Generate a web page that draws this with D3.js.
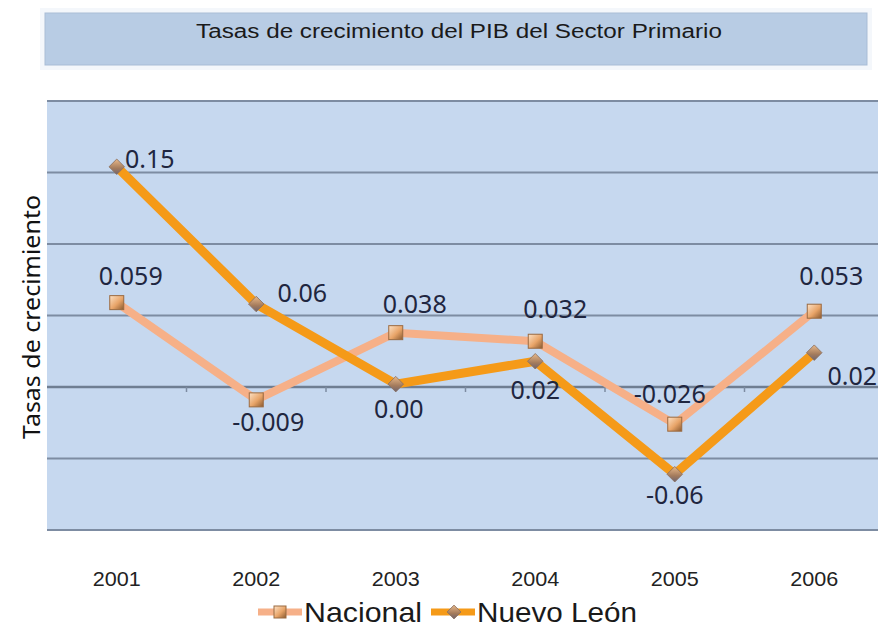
<!DOCTYPE html>
<html>
<head>
<meta charset="UTF-8">
<title>Tasas de crecimiento del PIB del Sector Primario</title>
<style>
  body { margin: 0; background: #fff; }
</style>
</head>
<body>
<div id="chart"></div>
<script src="https://d3js.org/d3.v7.min.js"></script>
<script>
// datos
var years = ["2001", "2002", "2003", "2004", "2005", "2006"];
var nacional = [0.059, -0.009, 0.038, 0.032, -0.026, 0.053];
var nuevoLeon = [0.154, 0.058, 0.002, 0.018, -0.061, 0.024];
var nacionalLabels = ["0.059", "-0.009", "0.038", "0.032", "-0.026", "0.053"];
var nuevoLeonLabels = ["0.15", "0.06", "0.00", "0.02", "-0.06", "0.02"];
var yTicks = [-0.1, -0.05, 0, 0.05, 0.1, 0.15, 0.2];

// desplazamiento de cada etiqueta respecto a su punto (estilo, no datos)
var nacionalDx = [14, 12, 19, 20, -5, 17];
var nacionalDy = [-18, 31, -20, -23, -21, -26];
var nuevoLeonDx = [33, 46, 3, 0, 0, 38];
var nuevoLeonDy = [1, -2, 34, 38, 30, 32];

var width = 878, height = 628;
var pLeft = 47, pRight = 884, pTop = 101, pBottom = 530;

var svg = d3.select("#chart").append("svg")
    .attr("width", width)
    .attr("height", height);

var defs = svg.append("defs");
var gq = defs.append("linearGradient").attr("id", "gq")
    .attr("x1", 0).attr("y1", 0).attr("x2", 1).attr("y2", 1);
gq.append("stop").attr("offset", "0%").attr("stop-color", "#fde2c6");
gq.append("stop").attr("offset", "55%").attr("stop-color", "#e8a468");
gq.append("stop").attr("offset", "100%").attr("stop-color", "#8a5a30");
var gd = defs.append("linearGradient").attr("id", "gd")
    .attr("x1", 0).attr("y1", 0).attr("x2", 1).attr("y2", 1);
gd.append("stop").attr("offset", "0%").attr("stop-color", "#e9b98a");
gd.append("stop").attr("offset", "60%").attr("stop-color", "#a47b5c");
gd.append("stop").attr("offset", "100%").attr("stop-color", "#6e6470");

// caja del titulo
svg.append("rect")
    .attr("x", 40).attr("y", 8).attr("width", 832).attr("height", 62)
    .attr("fill", "#f4f7fb");
svg.append("rect")
    .attr("x", 45).attr("y", 13).attr("width", 822).attr("height", 52)
    .attr("fill", "#b8cce4")
    .attr("stroke", "#a9bdd6").attr("stroke-width", 1);
svg.append("text")
    .attr("x", 459).attr("y", 38)
    .attr("text-anchor", "middle")
    .attr("font-family", "'Liberation Sans', Arial, sans-serif")
    .attr("font-size", 20)
    .attr("textLength", 526)
    .attr("lengthAdjust", "spacingAndGlyphs")
    .attr("fill", "#1a1a1a")
    .text("Tasas de crecimiento del PIB del Sector Primario");

var x = d3.scaleBand()
    .domain(years)
    .range([pLeft, pRight]);

var y = d3.scaleLinear()
    .domain([-0.1, 0.2])
    .range([pBottom, pTop]);

// fondo
svg.append("rect")
    .attr("x", pLeft).attr("y", pTop)
    .attr("width", pRight - pLeft).attr("height", pBottom - pTop)
    .attr("fill", "#c6d8ef");

// lineas de cuadricula
svg.append("g")
    .selectAll("line")
    .data(yTicks)
    .enter()
    .append("line")
    .attr("x1", pLeft).attr("x2", pRight)
    .attr("y1", function(d) { return y(d); })
    .attr("y2", function(d) { return y(d); })
    .attr("stroke", function(d) { return d === 0 ? "#6f7e92" : "#7d8ca2"; })
    .attr("stroke-width", function(d) { return d === 0 ? 2.5 : 1.8; });

// marcas sobre el eje cero
svg.append("g")
    .selectAll("line")
    .data(years.slice(1))
    .enter()
    .append("line")
    .attr("x1", function(d) { return x(d); })
    .attr("x2", function(d) { return x(d); })
    .attr("y1", y(0)).attr("y2", y(0) + 5)
    .attr("stroke", "#7d8ca2").attr("stroke-width", 1.5);

// etiquetas de años
svg.append("g")
    .selectAll("text")
    .data(years)
    .enter()
    .append("text")
    .attr("x", function(d) { return x(d) + x.bandwidth() / 2; })
    .attr("y", 586)
    .attr("text-anchor", "middle")
    .attr("font-family", "'Liberation Sans', Arial, sans-serif")
    .attr("font-size", 21)
    .attr("textLength", 48)
    .attr("lengthAdjust", "spacingAndGlyphs")
    .attr("fill", "#222")
    .text(function(d) { return d; });

// titulo eje y
svg.append("text")
    .attr("transform", "translate(40," + 317 + ") rotate(-90)")
    .attr("text-anchor", "middle")
    .attr("font-family", "'Noto Sans', sans-serif")
    .attr("font-size", 23)
    .attr("textLength", 244)
    .attr("lengthAdjust", "spacingAndGlyphs")
    .attr("fill", "#111")
    .text("Tasas de crecimiento");

var cx = function(i) { return x(years[i]) + x.bandwidth() / 2; };

var line = d3.line()
    .x(function(d, i) { return cx(i); })
    .y(function(d) { return y(d); });

svg.append("path")
    .datum(nacional)
    .attr("d", line)
    .attr("fill", "none")
    .attr("stroke", "#f6b088")
    .attr("stroke-width", 8)
    .attr("stroke-linejoin", "round");

svg.append("path")
    .datum(nuevoLeon)
    .attr("d", line)
    .attr("fill", "none")
    .attr("stroke", "#f59a18")
    .attr("stroke-width", 9)
    .attr("stroke-linejoin", "round");

// marcadores
svg.append("g")
    .selectAll("rect")
    .data(nacional)
    .enter()
    .append("rect")
    .attr("x", function(d, i) { return cx(i) - 7; })
    .attr("y", function(d) { return y(d) - 7; })
    .attr("width", 14).attr("height", 14)
    .attr("fill", "url(#gq)")
    .attr("stroke", "#9a6a40").attr("stroke-width", 1);

// rombo = cuadrado girado 45°
svg.append("g")
    .selectAll("path")
    .data(nuevoLeon)
    .enter()
    .append("path")
    .attr("d", d3.symbol().type(d3.symbolSquare).size(120))
    .attr("transform", function(d, i) {
        return "translate(" + cx(i) + "," + y(d) + ") rotate(45)";
    })
    .attr("fill", "url(#gd)")
    .attr("stroke", "#8a7060").attr("stroke-width", 0.8);

// etiquetas de datos
function addLabels(values, labels, dx, dy) {
    svg.append("g")
        .selectAll("text")
        .data(values)
        .enter()
        .append("text")
        .attr("x", function(d, i) { return cx(i) + dx[i]; })
        .attr("y", function(d, i) { return y(d) + dy[i]; })
        .attr("text-anchor", "middle")
        .attr("font-family", "'Noto Sans', sans-serif")
        .attr("font-size", 25)
        .attr("fill", "#1f2640")
        .text(function(d, i) { return labels[i]; });
}
addLabels(nacional, nacionalLabels, nacionalDx, nacionalDy);
addLabels(nuevoLeon, nuevoLeonLabels, nuevoLeonDx, nuevoLeonDy);

// leyenda
var legend = svg.append("g").attr("transform", "translate(0,612)");
var items = [
    { name: "Nacional", color: "#f6b088", marker: "square", x0: 258, w: 118 },
    { name: "Nuevo León", color: "#f59a18", marker: "diamond", x0: 431, w: 160 }
];
items.forEach(function(it) {
    legend.append("line")
        .attr("x1", it.x0).attr("x2", it.x0 + 44)
        .attr("y1", 0).attr("y2", 0)
        .attr("stroke", it.color).attr("stroke-width", 7);
    if (it.marker === "square") {
        legend.append("rect")
            .attr("x", it.x0 + 16).attr("y", -6)
            .attr("width", 12).attr("height", 12)
            .attr("fill", "url(#gq)").attr("stroke", "#9a6a40");
    } else {
        legend.append("path")
            .attr("d", d3.symbol().type(d3.symbolSquare).size(95))
            .attr("transform", "translate(" + (it.x0 + 23) + ",0) rotate(45)")
            .attr("fill", "url(#gd)").attr("stroke", "#8a7060").attr("stroke-width", 0.8);
    }
});
legend.selectAll("text.leg")
    .data(items)
    .enter()
    .append("text")
    .attr("class", "leg")
    .attr("x", function(d) { return d.x0 + 46; })
    .attr("y", 10)
    .attr("font-family", "'Liberation Sans', Arial, sans-serif")
    .attr("font-size", 28)
    .attr("textLength", function(d) { return d.w; })
    .attr("lengthAdjust", "spacingAndGlyphs")
    .attr("fill", "#1a1a1a")
    .text(function(d) { return d.name; });
</script>
</body>
</html>
